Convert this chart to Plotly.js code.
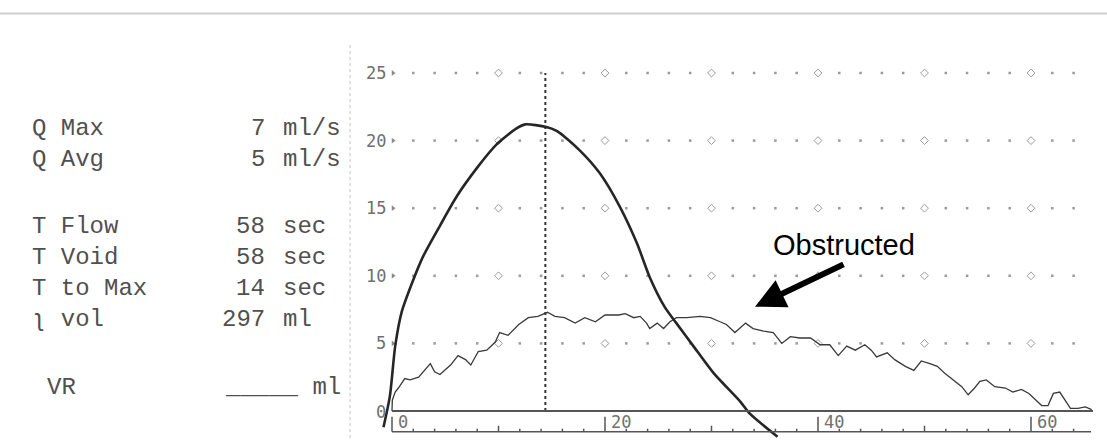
<!DOCTYPE html>
<html>
<head>
<meta charset="utf-8">
<script src="https://cdn.plot.ly/plotly-3.0.1.min.js"></script>
<style>
  html, body { margin: 0; padding: 0; background: #fff; }
  #chart { width: 1107px; height: 446px; }
</style>
</head>
<body>
<div id="chart"></div>
<script>
// ---- data ----
const normalTime = [-0.8, -0.2, 0.3, 0.9, 1.9, 2.9, 4.5, 6.1, 8.0, 9.8, 11.7, 12.5, 14.5, 15.5, 17.6, 19.5, 21.4, 23.0, 24.2, 25.6, 26.7, 28.3, 30.2, 32.7, 33.6, 36.2];
const normalFlow = [-1.2, 1.1, 4.8, 7.3, 9.5, 11.4, 13.7, 15.9, 18.0, 19.7, 20.9, 21.2, 21.0, 20.7, 19.3, 17.6, 15.1, 12.4, 9.9, 7.7, 6.5, 4.8, 2.8, 0.7, -0.2, -1.9];

const obstructedTime = [0, 0.03, 0.3, 0.6, 1.2, 1.7, 2.5, 3.6, 4.0, 4.5, 5.5, 6.2, 6.9, 7.4, 8.1, 8.9, 9.7, 10.1, 10.9, 11.9, 12.8, 13.7, 14.6, 15.3, 16.2, 17.2, 18.1, 19.1, 20.0, 21.3, 21.9, 22.7, 23.3, 23.9, 24.2, 24.9, 25.5, 26.1, 26.7, 27.7, 28.9, 29.9, 30.8, 31.4, 32.2, 33.2, 33.9, 34.9, 35.8, 36.6, 37.4, 38.3, 39.3, 40.2, 41.1, 41.9, 42.7, 43.5, 44.4, 45.0, 45.5, 46.5, 47.2, 48.2, 49.0, 49.7, 50.5, 51.2, 51.9, 52.9, 53.5, 54.1, 54.7, 55.2, 55.8, 56.6, 57.6, 58.3, 59.1, 59.8, 60.5, 61.0, 61.6, 62.1, 62.7, 63.2, 63.7, 64.4, 65.1, 65.7];
const obstructedFlow = [0, 0.8, 1.4, 1.7, 2.4, 2.3, 2.5, 3.5, 2.9, 2.7, 3.4, 4.1, 3.8, 3.4, 4.4, 4.5, 5.1, 5.8, 5.6, 6.4, 6.9, 7.0, 7.3, 7.0, 6.9, 6.5, 6.9, 6.6, 7.1, 7.1, 7.2, 6.9, 7.0, 6.5, 6.1, 6.5, 6.1, 6.6, 6.9, 6.9, 7.0, 6.9, 6.6, 6.4, 5.8, 6.5, 6.1, 5.9, 5.8, 5.0, 5.5, 5.4, 5.4, 4.9, 4.9, 4.1, 4.8, 4.5, 4.9, 4.5, 4.0, 4.3, 3.8, 3.3, 3.0, 3.7, 3.5, 3.3, 2.8, 2.2, 1.8, 1.2, 1.7, 2.2, 2.3, 1.8, 1.7, 1.4, 1.6, 1.3, 0.8, 0.4, 0.4, 1.3, 1.4, 0.8, 0.2, 0.2, 0.3, 0.1];

const timeToMax = [14.4];
const yTickValues = [0, 5, 10, 15, 20, 25];
const yTickLabels = ["0", "5", "10", "15", "20", "25"];
const xTickValues = [0, 20, 40, 60];
const xTickLabels = ["0", "20", "40", "60"];

const statLabels = ["Q Max", "Q Avg", "T Flow", "T Void", "T to Max", "ʅ vol"];
const statNumbers = ["7", "5", "58", "58", "14", "297"];
const statUnits = ["ml/s", "ml/s", "sec", "sec", "sec", "ml"];
const residualLabel = "VR";
const residualValue = "_____ ml";
const annotationText = "Obstructed";

// ---- geometry (pixel mapping: margins 0) ----
const W = 1107, H = 446;
const X0PX = 392, XSCALE = 10.65;   // px per second
const Y0PX = 411, YSCALE = 13.52;   // px per ml/s
const xRange = [(0 - X0PX) / XSCALE, (W - X0PX) / XSCALE];
const yRange = [(Y0PX - H) / YSCALE, Y0PX / YSCALE];
const px2x = p => (p - X0PX) / XSCALE;
const py2y = p => (Y0PX - p) / YSCALE;
const px2paper = p => p / W;
const py2paper = p => 1 - p / H;

const traces = [];
const shapes = [];
const annotations = [];

// dotted grid
const gridDotsX = [], gridDotsY = [], gridDiaX = [], gridDiaY = [], triX = [], triY = [];
yTickValues.filter(v => v > 0).forEach(g => {
  for (let t = 2; t <= 64; t += 2) {
    if (t % 10 === 0) { gridDiaX.push(t); gridDiaY.push(g); }
    else { gridDotsX.push(t); gridDotsY.push(g); }
  }
  triX.push(px2x(393)); triY.push(g);
});
traces.push({x: gridDotsX, y: gridDotsY, mode: 'markers', type: 'scatter',
  marker: {symbol: 'square', size: 2.5, color: '#9a9a9a'}, hoverinfo: 'skip'});
traces.push({x: gridDiaX, y: gridDiaY, mode: 'markers', type: 'scatter',
  marker: {symbol: 'diamond-open', size: 6, color: '#9a9a9a', line: {width: 1, color: '#9a9a9a'}}, hoverinfo: 'skip'});
traces.push({x: triX, y: triY, mode: 'markers', type: 'scatter',
  marker: {symbol: 'triangle-right', size: 5, color: '#8a8a8a'}, hoverinfo: 'skip'});

// time-to-max dotted vertical line
traces.push({x: [timeToMax[0], timeToMax[0]], y: [0, 25], mode: 'lines', type: 'scatter',
  line: {color: '#333', width: 2, dash: 'dot'}, hoverinfo: 'skip'});

// curves
traces.push({x: obstructedTime, y: obstructedFlow, mode: 'lines', type: 'scatter',
  line: {color: '#3a3a3a', width: 1.3}, hoverinfo: 'skip'});
traces.push({x: normalTime, y: normalFlow, mode: 'lines', type: 'scatter',
  line: {color: '#262626', width: 2.6, shape: 'spline', smoothing: 0.7}, hoverinfo: 'skip'});

// baseline and lower time axis
const lowerAxisY = py2y(431.7);
shapes.push({type: 'line', xref: 'x', yref: 'y', x0: 0, x1: px2x(1093), y0: 0, y1: 0,
  line: {color: '#555', width: 1.8}});
shapes.push({type: 'line', xref: 'x', yref: 'y', x0: 0, x1: px2x(1091), y0: lowerAxisY, y1: lowerAxisY,
  line: {color: '#555', width: 1.5}});
for (let t = 0; t <= 64; t += 2) {
  let hpx = 3;
  if (t % 20 === 0) hpx = 15; else if (t % 10 === 0) hpx = 6;
  shapes.push({type: 'line', xref: 'x', yref: 'y', x0: t, x1: t, y0: lowerAxisY, y1: lowerAxisY + hpx / YSCALE,
    line: {color: '#555', width: 1.5}});
}

// scan artefacts: faint top edge, left dotted margin
shapes.push({type: 'line', xref: 'paper', yref: 'paper', x0: 0, x1: 1, y0: py2paper(13.5), y1: py2paper(13.5),
  line: {color: 'rgba(170,170,170,0.55)', width: 2}});
shapes.push({type: 'line', xref: 'paper', yref: 'paper', x0: px2paper(350), x1: px2paper(350), y0: py2paper(45), y1: py2paper(440),
  line: {color: '#c4c4c4', width: 1, dash: 'dot'}});

// tick labels
const tickFont = {family: 'DejaVu Sans Mono, monospace', size: 17, color: '#707070'};
yTickValues.forEach((v, i) => {
  annotations.push({xref: 'x', yref: 'y', x: px2x(388), y: v === 0 ? py2y(412) : v, text: yTickLabels[i],
    showarrow: false, xanchor: 'right', yanchor: 'middle', font: tickFont});
});
xTickValues.forEach((v, i) => {
  annotations.push({xref: 'x', yref: 'y', x: v + 0.35, y: py2y(422), text: xTickLabels[i],
    showarrow: false, xanchor: 'left', yanchor: 'middle', font: tickFont});
});

// stats panel
const panelFont = {family: 'Liberation Mono, monospace', size: 24, color: '#505050'};
const rowY = [128.5, 160, 226, 257, 288, 319];
statLabels.forEach((lab, i) => {
  annotations.push({xref: 'paper', yref: 'paper', x: px2paper(30), y: py2paper(rowY[i]), text: lab,
    showarrow: false, xanchor: 'left', yanchor: 'middle', font: panelFont});
  annotations.push({xref: 'paper', yref: 'paper', x: px2paper(266.5), y: py2paper(rowY[i]), text: statNumbers[i],
    showarrow: false, xanchor: 'right', yanchor: 'middle', font: panelFont});
  annotations.push({xref: 'paper', yref: 'paper', x: px2paper(281), y: py2paper(rowY[i]), text: statUnits[i],
    showarrow: false, xanchor: 'left', yanchor: 'middle', font: panelFont});
});
annotations.push({xref: 'paper', yref: 'paper', x: px2paper(44.5), y: py2paper(387.5), text: residualLabel,
  showarrow: false, xanchor: 'left', yanchor: 'middle', font: panelFont});
annotations.push({xref: 'paper', yref: 'paper', x: px2paper(223), y: py2paper(387.5), text: residualValue,
  showarrow: false, xanchor: 'left', yanchor: 'middle', font: panelFont});

// "Obstructed" label and arrow
annotations.push({xref: 'paper', yref: 'paper', x: px2paper(844), y: py2paper(245), text: annotationText,
  showarrow: false, xanchor: 'center', yanchor: 'middle',
  font: {family: 'Liberation Sans, Arial, sans-serif', size: 29, color: '#000'}});
annotations.push({xref: 'x', yref: 'y', x: px2x(755), y: py2y(306.7), text: '',
  showarrow: true, ax: 90, ay: -43, arrowhead: 2, arrowsize: 1, arrowwidth: 6, arrowcolor: '#000', standoff: 0});

const layout = {
  width: W, height: H,
  margin: {l: 0, r: 0, t: 0, b: 0, pad: 0},
  paper_bgcolor: '#fff', plot_bgcolor: '#fff',
  showlegend: false,
  xaxis: {range: xRange, visible: false, fixedrange: true},
  yaxis: {range: yRange, visible: false, fixedrange: true},
  shapes: shapes,
  annotations: annotations
};

Plotly.newPlot('chart', traces, layout, {staticPlot: true, displayModeBar: false});
</script>
</body>
</html>
